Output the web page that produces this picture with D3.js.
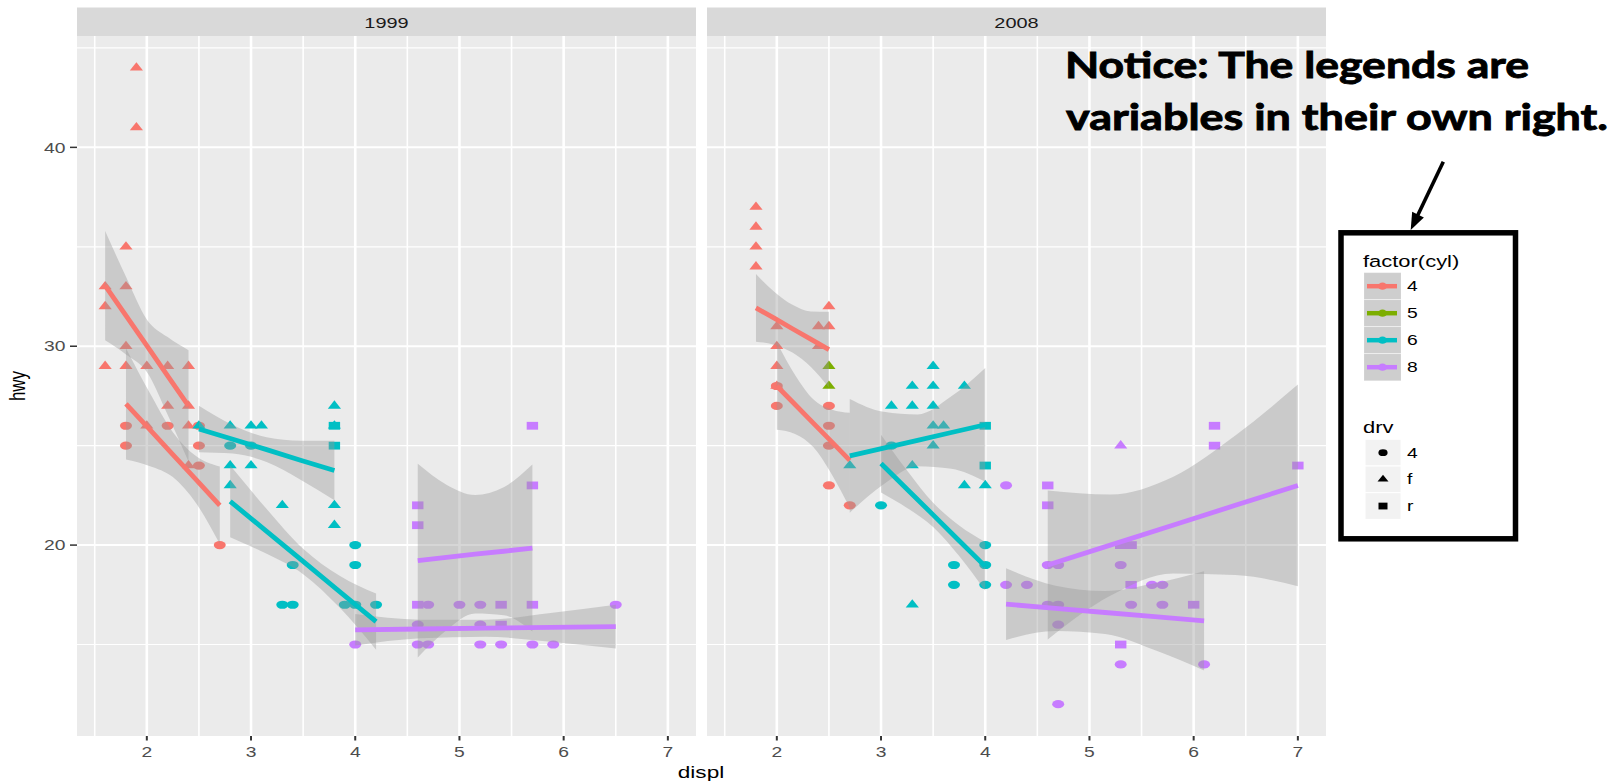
<!DOCTYPE html>
<html><head><meta charset="utf-8">
<script src="https://cdn.jsdelivr.net/npm/d3@7"></script>
<style>html,body{margin:0;padding:0;background:#fff;} svg{display:block;}</style>
</head><body>
<svg id="c" width="1614" height="784"></svg>
<script>
// ---------------- data ----------------
const years = ["1999", "2008"];
const cylLevels = [4, 5, 6, 8];
const cylColors = ["#F8766D", "#7CAE00", "#00BFC4", "#C77CFF"];
const drvLevels = ["4", "f", "r"];
const xTicks = [2, 3, 4, 5, 6, 7];
const xMinor = [1.5, 2.5, 3.5, 4.5, 5.5, 6.5];
const yTicks = [20, 30, 40];
const yMinor = [15, 25, 35, 45];
const xDomain = [1.33, 7.27];
const yDomain = [10.4, 45.6];

// [displ, hwy, cyl, drv]
const points1999 = [
  [1.6,33,4,"f"],[1.6,32,4,"f"],[1.6,29,4,"f"],
  [1.8,35,4,"f"],[1.8,33,4,"f"],[1.8,30,4,"f"],[1.8,29,4,"f"],
  [1.9,44,4,"f"],[1.9,41,4,"f"],
  [2.0,29,4,"f"],[2.0,26,4,"f"],
  [2.2,29,4,"f"],[2.2,27,4,"f"],
  [2.4,29,4,"f"],[2.4,27,4,"f"],[2.4,26,4,"f"],[2.4,24,4,"f"],
  [1.8,26,4,"4"],[1.8,25,4,"4"],[2.2,26,4,"4"],[2.5,26,4,"4"],[2.5,25,4,"4"],[2.5,24,4,"4"],[2.7,20,4,"4"],
  [2.5,26,6,"f"],[2.8,26,6,"f"],[2.8,24,6,"f"],[2.8,23,6,"f"],[3.0,26,6,"f"],[3.0,24,6,"f"],[3.1,26,6,"f"],
  [3.3,22,6,"f"],[3.8,27,6,"f"],[3.8,26,6,"f"],[3.8,22,6,"f"],[3.8,21,6,"f"],
  [2.8,25,6,"4"],[3.0,25,6,"4"],[3.3,17,6,"4"],[3.4,19,6,"4"],[3.4,17,6,"4"],[3.9,17,6,"4"],
  [4.0,20,6,"4"],[4.0,19,6,"4"],[4.0,17,6,"4"],[4.2,17,6,"4"],
  [3.8,26,6,"r"],[3.8,25,6,"r"],
  [4.6,22,8,"r"],[4.6,21,8,"r"],[4.6,17,8,"r"],[5.4,17,8,"r"],[5.4,16,8,"r"],[5.7,26,8,"r"],[5.7,23,8,"r"],[5.7,17,8,"r"],
  [4.0,15,8,"4"],[4.6,16,8,"4"],[4.6,15,8,"4"],[4.7,17,8,"4"],[4.7,15,8,"4"],[5.0,17,8,"4"],
  [5.2,17,8,"4"],[5.2,16,8,"4"],[5.2,15,8,"4"],[5.4,15,8,"4"],[5.7,15,8,"4"],[5.9,15,8,"4"],[6.5,17,8,"4"]
];
const points2008 = [
  [1.8,37,4,"f"],[1.8,36,4,"f"],[1.8,35,4,"f"],[1.8,34,4,"f"],
  [2.0,31,4,"f"],[2.0,30,4,"f"],[2.0,29,4,"f"],[2.0,28,4,"f"],
  [2.4,31,4,"f"],[2.4,30,4,"f"],[2.5,32,4,"f"],[2.5,31,4,"f"],
  [2.0,28,4,"4"],[2.0,27,4,"4"],[2.5,27,4,"4"],[2.5,26,4,"4"],[2.5,25,4,"4"],[2.5,23,4,"4"],[2.7,22,4,"4"],
  [2.5,29,5,"f"],[2.5,28,5,"f"],
  [2.7,24,6,"f"],[3.1,27,6,"f"],[3.3,28,6,"f"],[3.3,27,6,"f"],[3.3,24,6,"f"],[3.3,17,6,"f"],
  [3.5,29,6,"f"],[3.5,28,6,"f"],[3.5,27,6,"f"],[3.5,26,6,"f"],[3.5,25,6,"f"],[3.6,26,6,"f"],
  [3.8,28,6,"f"],[3.8,23,6,"f"],[4.0,23,6,"f"],
  [3.0,22,6,"4"],[3.1,25,6,"4"],[3.7,19,6,"4"],[3.7,18,6,"4"],[4.0,20,6,"4"],[4.0,19,6,"4"],[4.0,18,6,"4"],
  [4.0,26,6,"r"],[4.0,24,6,"r"],
  [4.2,23,8,"4"],[4.2,18,8,"4"],[4.4,18,8,"4"],[4.6,19,8,"4"],[4.6,17,8,"4"],[4.7,19,8,"4"],[4.7,17,8,"4"],
  [4.7,16,8,"4"],[4.7,12,8,"4"],[5.3,19,8,"4"],[5.3,14,8,"4"],[5.4,17,8,"4"],[5.6,18,8,"4"],[5.7,18,8,"4"],
  [5.7,17,8,"4"],[6.1,14,8,"4"],
  [4.6,23,8,"r"],[4.6,22,8,"r"],[5.3,20,8,"r"],[5.3,15,8,"r"],[5.4,20,8,"r"],[5.4,18,8,"r"],[6.0,17,8,"r"],
  [6.2,26,8,"r"],[6.2,25,8,"r"],[7.0,24,8,"r"],
  [5.3,25,8,"f"]
];

// fitted lines with confidence bands
const smooth1999 = [
  {cyl:4, x:[1.6,1.8,2.0,2.2,2.4], fit:[33.05,31.54,30.03,28.51,27.0], lo:[30.3,29.59,28.71,26.56,24.2], hi:[35.8,33.49,31.35,30.46,29.8]},
  {cyl:4, x:[1.8,2.025,2.25,2.475,2.7], fit:[27.1,25.83,24.55,23.28,22.0], lo:[24.3,23.98,23.42,22.09,20.05], hi:[29.9,27.68,25.68,24.47,23.95]},
  {cyl:6, x:[2.5,2.825,3.15,3.475,3.8], fit:[25.84,25.32,24.80,24.27,23.75], lo:[24.67,24.6,24.18,23.29,22.25], hi:[27.01,26.04,25.42,25.25,25.25]},
  {cyl:6, x:[2.8,3.15,3.5,3.85,4.2], fit:[22.2,20.69,19.18,17.66,16.15], lo:[20.4,19.56,18.54,16.86,14.74], hi:[24.0,21.82,19.82,18.46,17.56]},
  {cyl:8, x:[4.6,4.875,5.15,5.425,5.7], fit:[19.22,19.38,19.54,19.69,19.85], lo:[14.35,15.72,16.56,16.47,15.65], hi:[24.09,23.04,22.52,22.91,24.05]},
  {cyl:8, x:[4.0,4.625,5.25,5.875,6.5], fit:[15.74,15.78,15.82,15.86,15.9], lo:[14.95,15.31,15.39,15.14,14.8], hi:[16.53,16.25,16.25,16.58,17.0]}
];
const smooth2008 = [
  {cyl:4, x:[1.8,1.975,2.15,2.325,2.5], fit:[31.93,31.41,30.88,30.36,29.83], lo:[30.23,30.08,29.68,28.97,27.93], hi:[33.63,32.74,32.08,31.75,31.73]},
  {cyl:4, x:[2.0,2.175,2.35,2.525,2.7], fit:[28.0,27.07,26.13,25.2,24.26], lo:[25.8,25.59,24.93,23.58,21.87], hi:[30.2,28.55,27.33,26.82,26.65]},
  {cyl:6, x:[2.7,3.025,3.35,3.675,4.0], fit:[24.49,24.88,25.27,25.66,26.05], lo:[21.63,23.06,23.97,23.84,23.19], hi:[27.35,26.7,26.57,27.48,28.91]},
  {cyl:6, x:[3.0,3.25,3.5,3.75,4.0], fit:[24.1,22.81,21.52,20.22,18.93], lo:[22.65,21.87,20.91,19.45,17.7], hi:[25.55,23.75,22.13,20.99,20.16]},
  {cyl:8, x:[4.2,4.675,5.15,5.625,6.1], fit:[17.03,16.82,16.61,16.4,16.19], lo:[15.23,15.68,15.53,14.72,13.69], hi:[18.83,17.96,17.69,18.08,18.69]},
  {cyl:8, x:[4.6,5.2,5.8,6.4,7.0], fit:[19.0,20.0,21.0,22.0,23.0], lo:[15.25,17.45,18.57,18.49,17.93], hi:[22.75,22.55,23.43,25.51,28.07]}
];
const panelPoints = [points1999, points2008];
const panelSmooths = [smooth1999, smooth2008];

const noteLines = ["Notice: The legends are", "variables in their own right."];
const legendCylTitle = "factor(cyl)";
const legendDrvTitle = "drv";
const xTitle = "displ", yTitle = "hwy";

// ---------------- layout ----------------
const svg = d3.select("#c");
const FONT = "'Liberation Sans', Arial, Helvetica, sans-serif";
const SX = 1.33; // horizontal stretch of the original picture text
const panelTop = 36, panelBottom = 736, stripTop = 7.5;
const panelX = [[77, 696], [707, 1326]];
const colorOf = d3.scaleOrdinal().domain(cylLevels).range(cylColors);

function stretchedText(g, x, y, txt, size, anchor, fill, extra) {
  return g.append("text")
    .attr("transform", `translate(${x},${y}) scale(${SX},1)` + (extra || ""))
    .attr("text-anchor", anchor)
    .attr("font-family", FONT)
    .attr("font-size", size)
    .attr("fill", fill)
    .text(txt);
}

function shapePath(drv, w, h) {
  if (drv === "f") {
    return `M0,${-2*h/3}L${w/2},${h/3}L${-w/2},${h/3}Z`;
  } else if (drv === "r") {
    return `M${-w/2},${-h/2}H${w/2}V${h/2}H${-w/2}Z`;
  }
  return null;
}
function drawShape(g, drv, cx, cy, color, sz) {
  if (drv === "4") {
    g.append("ellipse").attr("cx", cx).attr("cy", cy)
      .attr("rx", sz.c[0]).attr("ry", sz.c[1]).attr("fill", color);
  } else if (drv === "f") {
    g.append("path").attr("transform", `translate(${cx},${cy})`)
      .attr("d", shapePath("f", sz.t[0], sz.t[1])).attr("fill", color);
  } else {
    g.append("path").attr("transform", `translate(${cx},${cy})`)
      .attr("d", shapePath("r", sz.s[0], sz.s[1])).attr("fill", color);
  }
}
const pointSize = {c:[6.0,4.1], t:[13.2,8.4], s:[11.4,7.8]};

years.forEach((yr, pi) => {
  const [x0, x1] = panelX[pi];
  const xs = d3.scaleLinear().domain(xDomain).range([x0, x1]);
  const ys = d3.scaleLinear().domain(yDomain).range([panelBottom, panelTop]);
  const g = svg.append("g");

  // strip
  g.append("rect").attr("x", x0).attr("y", stripTop).attr("width", x1 - x0)
    .attr("height", panelTop - stripTop).attr("fill", "#D9D9D9");
  stretchedText(g, (x0 + x1) / 2, 28.3, yr, 15, "middle", "#1A1A1A");

  // panel
  g.append("rect").attr("x", x0).attr("y", panelTop).attr("width", x1 - x0)
    .attr("height", panelBottom - panelTop).attr("fill", "#EBEBEB");
  const grid = g.append("g").attr("stroke", "#FFFFFF").attr("fill", "none");
  xMinor.forEach(v => grid.append("line").attr("x1", xs(v)).attr("x2", xs(v))
    .attr("y1", panelTop).attr("y2", panelBottom).attr("stroke-width", 1.6));
  yMinor.forEach(v => grid.append("line").attr("y1", ys(v)).attr("y2", ys(v))
    .attr("x1", x0).attr("x2", x1).attr("stroke-width", 1.2));
  xTicks.forEach(v => grid.append("line").attr("x1", xs(v)).attr("x2", xs(v))
    .attr("y1", panelTop).attr("y2", panelBottom).attr("stroke-width", 2.6));
  yTicks.forEach(v => grid.append("line").attr("y1", ys(v)).attr("y2", ys(v))
    .attr("x1", x0).attr("x2", x1).attr("stroke-width", 2.0));

  // x axis
  const xa = g.append("g");
  xTicks.forEach(v => {
    xa.append("line").attr("x1", xs(v)).attr("x2", xs(v)).attr("y1", panelBottom)
      .attr("y2", panelBottom + 4.5).attr("stroke", "#333333").attr("stroke-width", 2);
    stretchedText(xa, xs(v), 756.7, String(v), 14.5, "middle", "#4D4D4D");
  });
  // y axis (left panel only)
  if (pi === 0) {
    yTicks.forEach(v => {
      g.append("line").attr("x1", x0 - 7).attr("x2", x0).attr("y1", ys(v)).attr("y2", ys(v))
        .attr("stroke", "#333333").attr("stroke-width", 1.5);
      stretchedText(g, x0 - 11.5, ys(v) + 5.2, String(v), 14.5, "end", "#4D4D4D");
    });
  }

  // points
  const pg = g.append("g");
  panelPoints[pi].forEach(p => drawShape(pg, p[3], xs(p[0]), ys(p[1]), colorOf(p[2]), pointSize));

  // smooth ribbons then lines
  const sm = panelSmooths[pi];
  const area = d3.area().x(d => xs(d.x)).y0(d => ys(d.lo)).y1(d => ys(d.hi)).curve(d3.curveMonotoneX);
  const line = d3.line().x(d => xs(d.x)).y(d => ys(d.fit));
  const rows = s => s.x.map((xv, i) => ({x: xv, fit: s.fit[i], lo: s.lo[i], hi: s.hi[i]}));
  sm.forEach(s => g.append("path").attr("d", area(rows(s))).attr("fill", "#999999").attr("fill-opacity", 0.4));
  sm.forEach(s => g.append("path").attr("d", line(rows(s))).attr("fill", "none")
    .attr("stroke", colorOf(s.cyl)).attr("stroke-width", 4.8));
});

// axis titles
stretchedText(svg, 701, 778.3, xTitle, 17, "middle", "#000000");
svg.append("text").attr("transform", `translate(25,386) scale(${SX},1) rotate(-90)`)
  .attr("text-anchor", "middle").attr("font-family", FONT).attr("font-size", 17)
  .attr("fill", "#000").text(yTitle);

// ---------------- legend ----------------
const lg = svg.append("g");
lg.append("rect").attr("x", 1341).attr("y", 232.8).attr("width", 174.5).attr("height", 306)
  .attr("fill", "#FFFFFF").attr("stroke", "#000000").attr("stroke-width", 5.5);
const keyX = 1364, keyW = 37, keyH = 27, labX = 1407;
stretchedText(lg, 1363, 266.7, legendCylTitle, 16.5, "start", "#000000");
cylLevels.forEach((c, i) => {
  const ky = 272.7 + i * keyH;
  lg.append("rect").attr("x", keyX).attr("y", ky).attr("width", keyW).attr("height", keyH)
    .attr("fill", "#F2F2F2").attr("stroke", "#FFFFFF").attr("stroke-width", 1);
  lg.append("rect").attr("x", keyX).attr("y", ky).attr("width", keyW).attr("height", keyH)
    .attr("fill", "#999999").attr("fill-opacity", 0.4);
  const cy = ky + keyH / 2;
  lg.append("line").attr("x1", keyX + 3).attr("x2", keyX + keyW - 4).attr("y1", cy).attr("y2", cy)
    .attr("stroke", colorOf(c)).attr("stroke-width", 4.5);
  lg.append("ellipse").attr("cx", keyX + keyW / 2).attr("cy", cy).attr("rx", 4.6).attr("ry", 3.6)
    .attr("fill", colorOf(c));
  stretchedText(lg, labX, cy + 5, String(c), 14.5, "start", "#000000");
});
stretchedText(lg, 1363, 433.3, legendDrvTitle, 16.5, "start", "#000000");
const keySz = {c:[4.6,3.4], t:[11,6.8], s:[9,6.8]};
drvLevels.forEach((d, i) => {
  const ky = 439.3 + i * 26.7;
  lg.append("rect").attr("x", keyX + 1).attr("y", ky).attr("width", keyW - 1).attr("height", 26.7)
    .attr("fill", "#F2F2F2").attr("stroke", "#FFFFFF").attr("stroke-width", 1);
  const cy = ky + 13.35;
  drawShape(lg, d, keyX + keyW / 2 + 0.5, cy, "#000000", keySz);
  stretchedText(lg, labX, cy + 5, d, 14.5, "start", "#000000");
});

// ---------------- annotation ----------------
const NOTE_FONT = "Lato, 'Open Sans', 'Liberation Sans', sans-serif";
[[1065, 78.3, 464], [1066, 130, 542]].forEach((pos, i) => {
  svg.append("text").attr("x", pos[0]).attr("y", pos[1])
    .attr("font-family", NOTE_FONT).attr("font-weight", 700).attr("font-size", 37)
    .attr("textLength", pos[2]).attr("lengthAdjust", "spacingAndGlyphs")
    .attr("fill", "#000000").attr("stroke", "#000000").attr("stroke-width", 0.9)
    .text(noteLines[i]);
});
// arrow
const a0 = [1443.3, 161.7], a1 = [1410.7, 230];
const dx = a1[0] - a0[0], dy = a1[1] - a0[1], len = Math.hypot(dx, dy);
const ux = dx / len, uy = dy / len, px = -uy, py = ux;
const hl = 17, hw = 6.5;
const bx = a1[0] - ux * hl, by = a1[1] - uy * hl;
svg.append("line").attr("x1", a0[0]).attr("y1", a0[1]).attr("x2", bx + ux * 4).attr("y2", by + uy * 4)
  .attr("stroke", "#000").attr("stroke-width", 3.6);
svg.append("path").attr("d", `M${a1[0]},${a1[1]}L${bx + px * hw},${by + py * hw}L${bx - px * hw},${by - py * hw}Z`)
  .attr("fill", "#000");
</script>
</body></html>
